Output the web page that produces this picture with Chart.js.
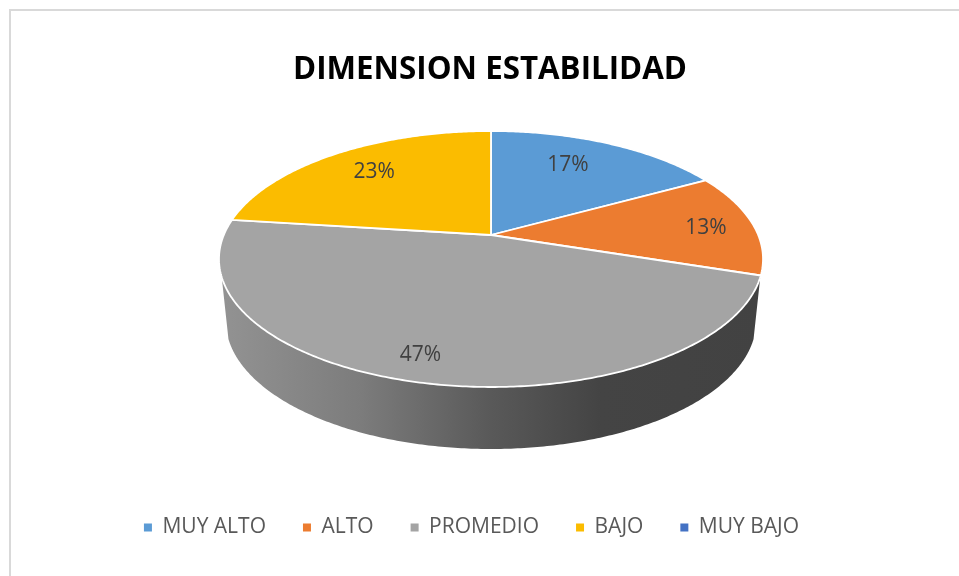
<!DOCTYPE html>
<html><head><meta charset="utf-8">
<style>
html,body{margin:0;padding:0;background:#fff;overflow:hidden}
#wrap{position:relative;width:959px;height:576px}
#frameTop{position:absolute;left:9px;top:9px;width:950px;height:2px;background:#d9d9d9}
#frameLeft{position:absolute;left:9px;top:9px;width:2px;height:567px;background:#d9d9d9}
canvas{position:absolute;left:0;top:0}
</style>
<script src="https://cdn.jsdelivr.net/npm/chart.js@4"></script>
</head><body>
<div id="wrap"><div id="frameTop"></div><div id="frameLeft"></div><canvas id="c" width="959" height="576"></canvas></div>
<script>
const chartTitle = 'DIMENSION ESTABILIDAD';
const categories = ['MUY ALTO','ALTO','PROMEDIO','BAJO','MUY BAJO'];
const percentValues = [17,13,47,23,0];
const sliceColors = ['#5b9bd5','#ec7c30','#a4a4a4','#fbbc00','#4472c4'];

// perspective of the tilted disc
const view = {cx:491, cy:235, a:267.2, b:123.5, k:0.1875, depth:62, shrink:0.975};
const labelPlace = [{f:.75,dx:-14,dy:1},{f:.82,dx:0,dy:2},{f:.85,dx:-12,dy:-1},{f:.75,dx:3,dy:0}];

function project(theta, f){
  const u = Math.cos(theta)*f, v = -Math.sin(theta)*f, d = 1 + view.k*v;
  return {x:view.cx + view.a*u/d, y:view.cy - view.b*v/d};
}
function lower(p){
  return {x:view.cx + (p.x-view.cx)*view.shrink, y:p.y + view.depth};
}

Chart.ArcElement.prototype.draw = function(ctx){
  const o = this.options, s = this.startAngle, e = this.endAngle;
  if (e - s < 1e-4) return;
  ctx.save();
  ctx.beginPath();
  ctx.moveTo(view.cx, view.cy);
  const n = Math.max(8, Math.ceil((e-s)*90));
  for (let i=0;i<=n;i++){ const p = project(s+(e-s)*i/n, 1); ctx.lineTo(p.x,p.y); }
  ctx.closePath();
  ctx.fillStyle = o.backgroundColor; ctx.fill();
  ctx.strokeStyle = o.borderColor; ctx.lineWidth = o.borderWidth; ctx.lineJoin='round'; ctx.stroke();
  ctx.restore();
};

const wallPlugin = {
  id:'wall',
  beforeDatasetsDraw(chart){
    const ctx = chart.ctx, pts=[], N=240;
    // front part of the rim, right corner to left corner
    const t0 = 0.326, t1 = Math.PI-0.326;
    for (let i=0;i<=N;i++) pts.push(project(t0+(t1-t0)*i/N,1));
    const low = pts.map(lower).reverse();
    const g = ctx.createLinearGradient(219,0,763,0);
    g.addColorStop(0,'#939393');g.addColorStop(.26,'#7c7c7c');g.addColorStop(.5,'#595959');
    g.addColorStop(.7,'#444444');g.addColorStop(1,'#424242');
    ctx.save();
    ctx.beginPath();
    pts.concat(low).forEach((p,i)=> i?ctx.lineTo(p.x,p.y):ctx.moveTo(p.x,p.y));
    ctx.closePath();
    ctx.fillStyle = g; ctx.fill();
    ctx.restore();
  }
};
const labelPlugin = {
  id:'sliceLabels',
  afterDatasetsDraw(chart){
    const ctx = chart.ctx, arcs = chart.getDatasetMeta(0).data;
    ctx.save();
    ctx.font = '21px "Open Sans"'; ctx.fillStyle = '#404040';
    ctx.textAlign='center'; ctx.textBaseline='middle';
    arcs.forEach((arc,i)=>{
      if (!percentValues[i]) return;
      const l = labelPlace[i], p = project((arc.startAngle+arc.endAngle)/2, l.f);
      ctx.fillText(percentValues[i]+'%', p.x+l.dx, p.y+l.dy);
    });
    ctx.restore();
  }
};
const legendShift = {
  id:'legendShift',
  afterLayout(chart){ chart.legend.left -= 18.5; chart.legend.right -= 18.5; }
};

new Chart(document.getElementById('c'),{
  type:'pie',
  data:{labels:categories,datasets:[{data:percentValues,backgroundColor:sliceColors,borderColor:'#ffffff',borderWidth:1.8}]},
  plugins:[wallPlugin,labelPlugin,legendShift],
  options:{
    responsive:false,animation:false,
    layout:{padding:{left:21,right:0,top:0,bottom:28}},
    plugins:{
      tooltip:{enabled:false},
      title:{display:true,text:chartTitle,color:'#000000',
        font:{family:'"Open Sans"',size:31.3,weight:'bold'},padding:{top:51,bottom:4}},
      legend:{position:'bottom',
        labels:{boxWidth:8,boxHeight:8,padding:37,color:'#595959',
          font:{family:'"Open Sans"',size:21},
          generateLabels(chart){
            return Chart.PieController.overrides.plugins.legend.labels.generateLabels(chart).map(x=>({...x,lineWidth:0}));
          }}}
    }
  }
});
</script>
</body></html>
